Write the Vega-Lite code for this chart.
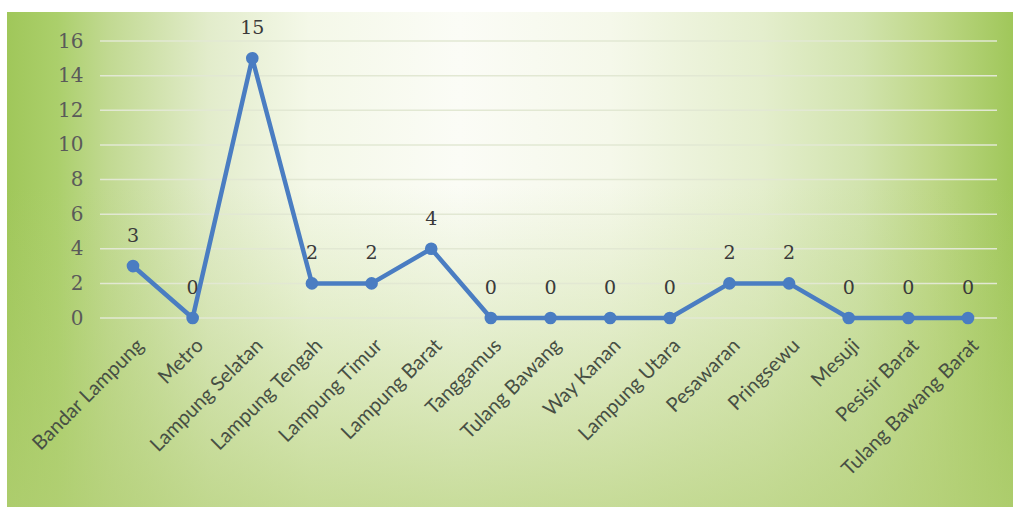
{
  "$schema": "https://vega.github.io/schema/vega-lite/v6.json",
  "width": 1006,
  "height": 495,
  "autosize": {"type": "none"},
  "padding": {"left": 7, "top": 12, "right": 0, "bottom": 2},
  "background": "white",
  "view": {
    "stroke": null,
    "fill": {
      "gradient": "linear",
      "x1": 0, "y1": 0, "x2": 1, "y2": 0,
      "stops": [
        {"offset": 0, "color": "#a0c75a"},
        {"offset": 0.05, "color": "#abcf6b"},
        {"offset": 0.1, "color": "#c1d991"},
        {"offset": 0.2, "color": "#e2eccb"},
        {"offset": 0.3, "color": "#f4f8e8"},
        {"offset": 0.45, "color": "#fbfcf6"},
        {"offset": 0.6, "color": "#f5f8ea"},
        {"offset": 0.75, "color": "#e4eecd"},
        {"offset": 0.85, "color": "#d1e3ad"},
        {"offset": 0.92, "color": "#bed787"},
        {"offset": 1, "color": "#a0c75a"}
      ]
    }
  },
  "datasets": {
    "main": [
      {"region": "Bandar Lampung", "value": 3},
      {"region": "Metro", "value": 0},
      {"region": "Lampung Selatan", "value": 15},
      {"region": "Lampung Tengah", "value": 2},
      {"region": "Lampung Timur", "value": 2},
      {"region": "Lampung Barat", "value": 4},
      {"region": "Tanggamus", "value": 0},
      {"region": "Tulang Bawang", "value": 0},
      {"region": "Way Kanan", "value": 0},
      {"region": "Lampung Utara", "value": 0},
      {"region": "Pesawaran", "value": 2},
      {"region": "Pringsewu", "value": 2},
      {"region": "Mesuji", "value": 0},
      {"region": "Pesisir Barat", "value": 0},
      {"region": "Tulang Bawang Barat", "value": 0}
    ],
    "grid": [
      {"g": 0}, {"g": 2}, {"g": 4}, {"g": 6}, {"g": 8},
      {"g": 10}, {"g": 12}, {"g": 14}, {"g": 16}
    ],
    "bg": [{"bg": 1}]
  },
  "layer": [
    {
      "data": {"name": "bg"},
      "mark": {
        "type": "rect",
        "fill": {
          "gradient": "linear",
          "x1": 0, "y1": 0, "x2": 0, "y2": 1,
          "stops": [
            {"offset": 0, "color": "rgba(178,207,116,0)"},
            {"offset": 0.35, "color": "rgba(178,207,116,0)"},
            {"offset": 0.6, "color": "rgba(178,207,116,0.25)"},
            {"offset": 1, "color": "rgba(178,207,116,0.7)"}
          ]
        }
      },
      "encoding": {
        "x": {"value": 0},
        "x2": {"value": "width"},
        "y": {"value": 0},
        "y2": {"value": "height"}
      }
    },
    {
      "data": {"name": "grid"},
      "mark": {"type": "rule", "color": "#e2e8d3", "strokeWidth": 1.5, "xOffset": -33, "x2Offset": 29},
      "encoding": {
        "x": {"datum": "Bandar Lampung", "type": "nominal"},
        "x2": {"datum": "Tulang Bawang Barat"},
        "y": {"field": "g", "type": "quantitative"}
      }
    },
    {
      "data": {"name": "main"},
      "mark": {"type": "line", "color": "#4a7dc2", "strokeWidth": 4.5, "strokeJoin": "round"},
      "encoding": {
        "x": {"field": "region", "type": "nominal", "sort": null},
        "y": {"field": "value", "type": "quantitative"}
      }
    },
    {
      "data": {"name": "main"},
      "mark": {"type": "point", "filled": true, "color": "#4a7dc2", "opacity": 1, "size": 160},
      "encoding": {
        "x": {"field": "region", "type": "nominal", "sort": null},
        "y": {"field": "value", "type": "quantitative"}
      }
    },
    {
      "data": {"name": "main"},
      "mark": {"type": "text", "dy": -30, "font": "DejaVu Serif", "fontSize": 19, "color": "#3a3a3a", "baseline": "middle"},
      "encoding": {
        "x": {"field": "region", "type": "nominal", "sort": null},
        "y": {"field": "value", "type": "quantitative"},
        "text": {"field": "value", "type": "quantitative"}
      }
    }
  ],
  "resolve": {"scale": {"x": "shared", "y": "shared"}},
  "encoding": {
    "x": {
      "field": "region", "type": "nominal", "sort": null,
      "scale": {
        "type": "point",
        "padding": 0,
        "domain": ["Bandar Lampung", "Metro", "Lampung Selatan", "Lampung Tengah", "Lampung Timur", "Lampung Barat", "Tanggamus", "Tulang Bawang", "Way Kanan", "Lampung Utara", "Pesawaran", "Pringsewu", "Mesuji", "Pesisir Barat", "Tulang Bawang Barat"],
        "range": [126, 961]
      },
      "axis": {
        "title": null, "orient": "bottom", "offset": -189, "zindex": 1,
        "domain": false, "ticks": false, "grid": false,
        "labelAngle": -45, "labelPadding": 17, "labelLimit": 400,
        "labelFont": "Lato", "labelFontSize": 20, "labelColor": "#474f44"
      }
    },
    "y": {
      "type": "quantitative",
      "scale": {"domain": [0, 16], "range": [306, 29], "nice": false},
      "axis": {
        "title": null, "orient": "left", "offset": -84, "zindex": 1,
        "domain": false, "ticks": false, "grid": false,
        "values": [0, 2, 4, 6, 8, 10, 12, 14, 16],
        "labelPadding": 8,
        "labelFont": "DejaVu Serif", "labelFontSize": 20, "labelColor": "#5a5a5a"
      }
    }
  }
}
